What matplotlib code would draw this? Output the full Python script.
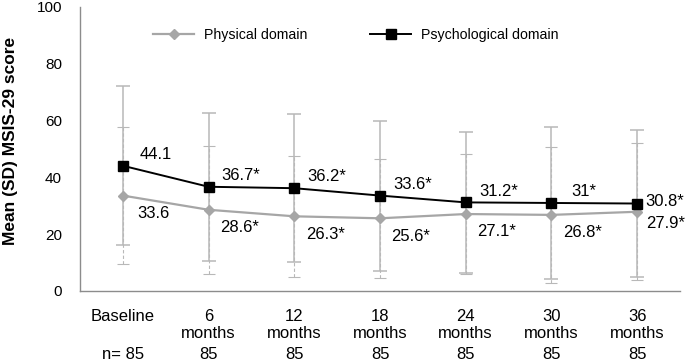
import numpy as np
import matplotlib.pyplot as plt

plt.rcParams['font.family'] = ['Liberation Sans', 'DejaVu Sans']

categories = ["Baseline", "6\nmonths", "12\nmonths", "18\nmonths",
              "24\nmonths", "30\nmonths", "36\nmonths"]
n_counts = ["n= 85", "85", "85", "85", "85", "85", "85"]

physical_mean = [33.6, 28.6, 26.3, 25.6, 27.1, 26.8, 27.9]
physical_sd = [24.1, 22.5, 21.4, 21.0, 21.2, 23.9, 24.1]
physical_lbl = ["33.6", "28.6*", "26.3*", "25.6*", "27.1*", "26.8*", "27.9*"]

psych_mean = [44.1, 36.7, 36.2, 33.6, 31.2, 31.0, 30.8]
psych_sd = [28.0, 26.0, 26.0, 26.4, 24.9, 26.7, 26.0]
psych_lbl = ["44.1", "36.7*", "36.2*", "33.6*", "31.2*", "31*", "30.8*"]

GRAY = "#a6a6a6"
ERR = "#b8b8b8"

fig = plt.figure(figsize=(6.85, 3.61), dpi=100)
ax = fig.add_axes([80 / 685, 1 - 291 / 361, 600 / 685, 284 / 361])

x = np.arange(len(categories))

# error bars first, so the lines sit on top
eb1 = ax.errorbar(x, physical_mean, yerr=physical_sd, fmt='none', ecolor=ERR,
                  elinewidth=0.8, capsize=4, capthick=0.8, zorder=1)
eb1[2][0].set_linestyle((0, (3, 2)))
ax.errorbar(x, psych_mean, yerr=psych_sd, fmt='none', ecolor=ERR,
            elinewidth=1.1, capsize=5, capthick=1.1, zorder=1)

ax.plot(x, physical_mean, color=GRAY, lw=1.6, marker='D', ms=5.5,
        mec=GRAY, mfc=GRAY, label="Physical domain", zorder=3)
ax.plot(x, psych_mean, color="black", lw=1.4, marker='s', ms=6.5,
        mec="black", mfc="black", label="Psychological domain", zorder=4)

last = len(x) - 1
for i in x:
    if i == last:
        ax.text(i + 0.10, psych_mean[i] + 0.6, psych_lbl[i], ha='left', va='center', fontsize=12)
        ax.text(i + 0.10, physical_mean[i] - 4.1, physical_lbl[i], ha='left', va='center', fontsize=12)
    else:
        ax.text(i + 0.38, psych_mean[i] + 4.0, psych_lbl[i], ha='center', va='center', fontsize=12)
        ax.text(i + 0.36, physical_mean[i] - 6.3, physical_lbl[i], ha='center', va='center', fontsize=12)

ax.set_xlim(-0.5, 6.5)
ax.set_ylim(0, 100)
ax.set_yticks([0, 20, 40, 60, 80, 100])
ax.set_xticks(x)
ax.set_xticklabels(categories, linespacing=1.15)
ax.tick_params(axis='both', length=0)
ax.tick_params(axis='x', pad=13, labelsize=12)
ax.tick_params(axis='y', pad=13, labelsize=11)

for i in x:
    ax.text(i, -0.225, n_counts[i], transform=ax.get_xaxis_transform(),
            ha='center', va='center', fontsize=12)

for s in ['top', 'right']:
    ax.spines[s].set_visible(False)
for s in ['left', 'bottom']:
    ax.spines[s].set_color("#8c8c8c")
    ax.spines[s].set_linewidth(1.0)

ax.set_ylabel("Mean (SD) MSIS-29 score", fontsize=12.5, fontweight='bold')
ax.yaxis.set_label_coords(-0.103, 0.53)

ax.legend(loc='center', bbox_to_anchor=(0.46, 0.90), ncol=2, frameon=False,
          fontsize=10.2, handlelength=2.9, handletextpad=0.7, columnspacing=4.4)

fig.savefig("out.png", dpi=100)
